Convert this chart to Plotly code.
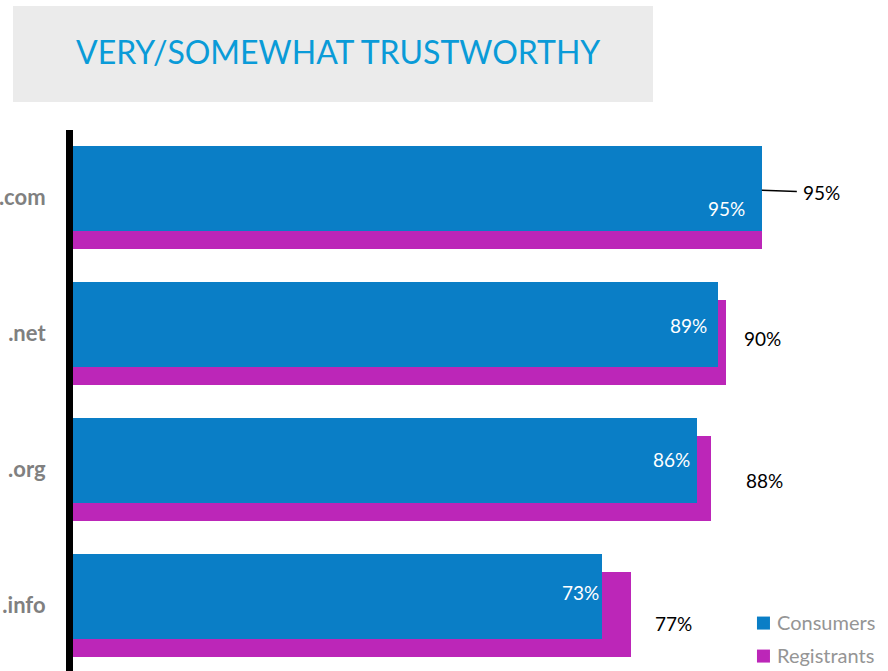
import plotly.graph_objects as go

# Survey data: share rating each TLD as very/somewhat trustworthy (%)
domains = [".com", ".net", ".org", ".info"]
consumers = [95, 89, 86, 73]
registrants = [95, 90, 88, 77]
series_names = ["Consumers", "Registrants"]
title_text = "VERY/SOMEWHAT TRUSTWORTHY"

BLUE = "#0A7EC6"
MAGENTA = "#BC26B8"
FONT = "Lato, 'Open Sans', sans-serif"

# hand placement of data labels (pixel shifts from the bar end / row centre)
inner_dx = [-35, -30, -25, -22]
inner_dy = [-11, 8, 10, 13]
outer_dx = [60, 37, 53, 42]
outer_dy = [5, -5, -11, -18]

fig = go.Figure()

# Registrants drawn first so the Consumers bar sits in front of it
fig.add_trace(go.Bar(
    y=domains, x=registrants, orientation="h", name=series_names[1],
    marker=dict(color=MAGENTA, line=dict(width=0)),
    width=0.632, offset=-0.248, hoverinfo="skip",
))
fig.add_trace(go.Bar(
    y=domains, x=consumers, orientation="h", name=series_names[0],
    marker=dict(color=BLUE, line=dict(width=0)),
    width=0.625, offset=-0.377, hoverinfo="skip",
))

annotations = []
for i, d in enumerate(domains):
    annotations.append(dict(
        x=consumers[i], y=d, xref="x", yref="y", text=f"{consumers[i]}%",
        showarrow=False, xanchor="center", yanchor="middle",
        xshift=inner_dx[i], yshift=inner_dy[i],
        font=dict(family=FONT, size=19, color="white"),
    ))
    if i == 0:
        # leader line from the bar end to its label
        annotations.append(dict(
            x=registrants[i], y=d, xref="x", yref="y", text=f"{registrants[i]}%",
            showarrow=True, arrowhead=0, arrowwidth=1.5, arrowcolor="black",
            ax=outer_dx[i], ay=2, axref="pixel", ayref="pixel",
            yshift=outer_dy[i] + 2, borderpad=6,
            font=dict(family=FONT, size=19, color="black"),
        ))
    else:
        annotations.append(dict(
            x=registrants[i], y=d, xref="x", yref="y", text=f"{registrants[i]}%",
            showarrow=False, xanchor="center", yanchor="middle",
            xshift=outer_dx[i], yshift=outer_dy[i],
            font=dict(family=FONT, size=19, color="black"),
        ))

# title banner text
annotations.append(dict(
    x=0.3252, y=1.1442, xref="paper", yref="paper", text=title_text,
    showarrow=False, xanchor="center", yanchor="middle",
    font=dict(family=FONT, size=32, color="#0A9BD8"),
))

# legend: colour keys and series names in the lower right corner
legend_colors = [BLUE, MAGENTA]
legend_y = [0.0906, 0.0296]
shapes = [dict(
    type="rect", xref="paper", yref="paper",
    x0=-0.0736, x1=0.7117, y0=1.0518, y1=1.2292,
    fillcolor="#EBEBEB", line=dict(width=0), layer="below",
)]
for name, col, ly in zip(series_names, legend_colors, legend_y):
    shapes.append(dict(
        type="rect", xref="paper", yref="paper",
        xsizemode="pixel", ysizemode="pixel",
        xanchor=0.8472, yanchor=ly - 0.002,
        x0=-6.5, x1=6.5, y0=-6.5, y1=6.5,
        fillcolor=col, line=dict(width=0),
    ))
    annotations.append(dict(
        x=0.8608, y=ly, xref="paper", yref="paper", text=name,
        showarrow=False, xanchor="left", yanchor="middle",
        font=dict(family=FONT, size=20, color="#959595"),
    ))

fig.update_layout(
    width=888, height=671,
    margin=dict(l=73, r=0, t=130, b=0),
    paper_bgcolor="white", plot_bgcolor="white",
    barmode="overlay", bargap=0,
    showlegend=False,
    shapes=shapes,
    annotations=annotations,
    xaxis=dict(range=[0, 112.4], visible=False, fixedrange=True),
    yaxis=dict(
        type="category", categoryorder="array", categoryarray=domains,
        range=[3.4835, -0.4945], showline=True, linecolor="black", linewidth=7,
        showgrid=False, zeroline=False, ticks="", ticklabelstandoff=16,
        tickfont=dict(family=FONT, size=22, color="#808080", weight="bold"),
    ),
)

fig.write_html("out.html")
